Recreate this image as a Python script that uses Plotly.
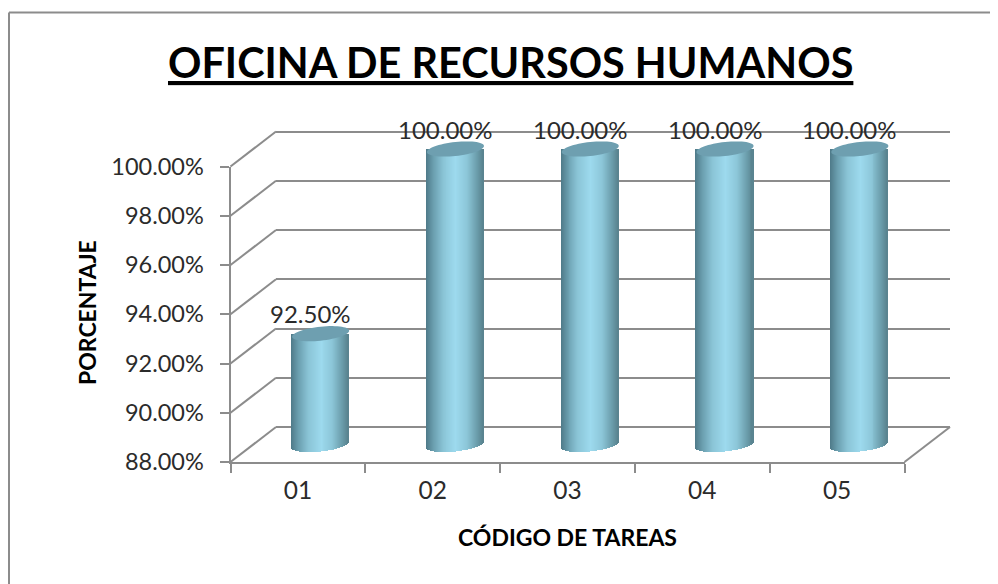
import math
import plotly.graph_objects as go

categories = ["01", "02", "03", "04", "05"]
values = [92.5, 100.0, 100.0, 100.0, 100.0]
y_ticks = [88, 90, 92, 94, 96, 98, 100]
y_tick_labels = ["88.00%", "90.00%", "92.00%", "94.00%", "96.00%", "98.00%", "100.00%"]
value_labels = ["92.50%", "100.00%", "100.00%", "100.00%", "100.00%"]
title_text = "OFICINA DE RECURSOS HUMANOS"
x_title = "CÓDIGO DE TAREAS"
y_title = "PORCENTAJE"

PAGE = 8                                  # the page's own body margin
W, H = 998 - PAGE, 584 - PAGE
FONT = "Lato"
GRAY = "#8c8c8c"
TXT = "#2b2b2b"

# layout below is in window pixels
L, R, B, T = 230.5, 904.5, 462.0, 166.5   # front plane
DX, DY = 45.5, 35.0                       # depth of the box
Y0, Y1 = y_ticks[0], y_ticks[-1]
px_per_cat = (R - L) / len(categories)
px_per_val = (B - T) / (Y1 - Y0)
PAD = 20.0                                # room round subplots so caps and end gridlines survive

def fx(p):
    return (p - PAGE) / W

def fy(p):
    return (H - (p - PAGE)) / H

def xdom(a, b):
    return [fx(a), fx(b)]

def ydom(a, b):  # a=bottom px, b=top px
    return [fy(a), fy(b)]

# cylinder look, pixels
HALF_W = 28.5
E = 7.0
TILT = 3.0
N = 58
STOPS = [(-1.0, (78, 122, 136)), (-0.75, (106, 158, 174)), (-0.4, (138, 196, 214)),
         (0.05, (157, 218, 238)), (0.45, (140, 198, 216)), (0.8, (106, 156, 170)), (1.0, (88, 130, 142))]

def shade(u):
    for (a, ca), (b, cb) in zip(STOPS, STOPS[1:]):
        if a <= u <= b:
            f = (u - a) / (b - a)
            return "rgb(%d,%d,%d)" % tuple(round(p + (q - p) * f) for p, q in zip(ca, cb))
    return "rgb(88,130,142)"

xs, bases, tops, widths, colors = [], [], [], [], []
for i, v in enumerate(values):
    for k in range(N):
        u = -1 + (2 * k + 1) / N
        low = Y0 + (TILT * u - E * math.sqrt(max(0, 1 - u * u))) / px_per_val
        xs.append(i + u * HALF_W / px_per_cat)
        bases.append(low)
        tops.append(v - low)
        widths.append((2 * HALF_W / N + 0.7) / px_per_cat)
        colors.append(shade(u))

fig = go.Figure()
# back wall grid (x/y)
fig.add_trace(go.Scatter(x=[0], y=[Y0], mode="markers", marker=dict(opacity=0), xaxis="x", yaxis="y",
                         hoverinfo="skip", showlegend=False))
# cylinders (x2/y2, mid depth)
fig.add_trace(go.Bar(x=xs, y=tops, base=bases, width=widths, marker=dict(color=colors, line=dict(width=0)),
                     xaxis="x2", yaxis="y2", cliponaxis=False, showlegend=False))
# front axes (x3/y3)
fig.add_trace(go.Bar(x=categories, y=values, xaxis="x3", yaxis="y3", opacity=0, showlegend=False, hoverinfo="skip"))

shapes = []
# top caps
for i, v in enumerate(values):
    pts = []
    for a in range(0, 360, 6):
        th = math.radians(a)
        c, s = math.cos(th), math.sin(th)
        pts.append((i + c * HALF_W / px_per_cat, v + (TILT * c + E * s) / px_per_val))
    path = "M" + " L".join(f"{x:.4f},{y:.4f}" for x, y in pts) + " Z"
    shapes.append(dict(type="path", path=path, xref="x2", yref="y2", fillcolor="#6e9fb0",
                       line=dict(width=0), layer="above"))

# connectors from the front plane to the back wall
def seg(x0, y0, x1, y1):
    return dict(type="line", xref="paper", yref="paper", x0=fx(x0), x1=fx(x1),
                y0=fy(y0), y1=fy(y1), line=dict(color=GRAY, width=2), layer="below")

for t in y_ticks:
    py = B - (t - Y0) * px_per_val
    shapes.append(seg(L, py, L + DX, py - DY))
shapes.append(seg(R, B, R + DX, B - DY))
# outer frame
shapes.append(seg(9, 12.5, 998, 12.5))
shapes.append(seg(9, 12.5, 9, 584))

annotations = [
    dict(text=f"<b><u>{title_text}</u></b>", x=fx(510.5), y=fy(62), xref="paper", yref="paper",
         showarrow=False, font=dict(family=FONT, size=41.4, color="#000000"), xanchor="center", yanchor="middle"),
    dict(text=f"<b>{x_title}</b>", x=fx(567), y=fy(537), xref="paper", yref="paper",
         showarrow=False, font=dict(family=FONT, size=23, color="#000000"), xanchor="center", yanchor="middle"),
    dict(text=f"<b>{y_title}</b>", x=fx(87), y=fy(313), xref="paper", yref="paper", textangle=-90,
         showarrow=False, font=dict(family=FONT, size=23, color="#000000"), xanchor="center", yanchor="middle"),
]
for i, (v, lab) in enumerate(zip(values, value_labels)):
    annotations.append(dict(text=lab, x=i, y=v, xref="x2", yref="y2", xshift=-10, yshift=20,
                            showarrow=False, font=dict(family=FONT, size=24, color=TXT),
                            xanchor="center", yanchor="middle"))

hidden = dict(showticklabels=False, ticks="", showline=False, zeroline=False, showgrid=False,
              fixedrange=True, automargin=False)
pad_x = PAD / px_per_cat
pad_y = PAD / px_per_val
fig.update_layout(
    width=W, height=H, margin=dict(l=0, r=0, t=0, b=0, pad=0, autoexpand=False),
    paper_bgcolor="white", plot_bgcolor="rgba(0,0,0,0)",
    barmode="overlay", bargap=0, showlegend=False, shapes=shapes, annotations=annotations,
    xaxis=dict(domain=xdom(L + DX, R + DX), range=[0, 1], anchor="y", **hidden),
    yaxis=dict(domain=ydom(B - DY + PAD, T - DY - PAD), range=[Y0 - pad_y, Y1 + pad_y], anchor="x",
               **{**hidden, "showgrid": True}, gridcolor=GRAY, gridwidth=2, tickvals=y_ticks),
    xaxis2=dict(domain=xdom(L + DX / 2 - PAD, R + DX / 2 + PAD),
                range=[-0.5 - pad_x, len(categories) - 0.5 + pad_x], anchor="y2", **hidden),
    yaxis2=dict(domain=ydom(B - DY / 2 + PAD, T - DY / 2 - PAD), range=[Y0 - pad_y, Y1 + pad_y],
                anchor="x2", **hidden),
    xaxis3=dict(domain=xdom(L, R), type="category", categoryorder="array", categoryarray=categories,
                anchor="y3", showline=True, linecolor=GRAY, linewidth=2, ticks="outside", ticklen=9,
                tickwidth=2, tickcolor=GRAY, tickson="boundaries", showgrid=False, zeroline=False,
                tickfont=dict(family=FONT, size=24.5, color=TXT), fixedrange=True, automargin=False,
                ticklabelstandoff=6),
    yaxis3=dict(domain=ydom(B, T), range=[Y0, Y1], anchor="x3", showline=True, linecolor=GRAY, linewidth=2,
                ticks="outside", ticklen=9, tickwidth=2, tickcolor=GRAY, showgrid=False, zeroline=False,
                tickvals=y_ticks, ticktext=y_tick_labels, tickfont=dict(family=FONT, size=23.5, color=TXT),
                fixedrange=True, automargin=False, ticklabelstandoff=11),
)
fig.write_html("out.html")
